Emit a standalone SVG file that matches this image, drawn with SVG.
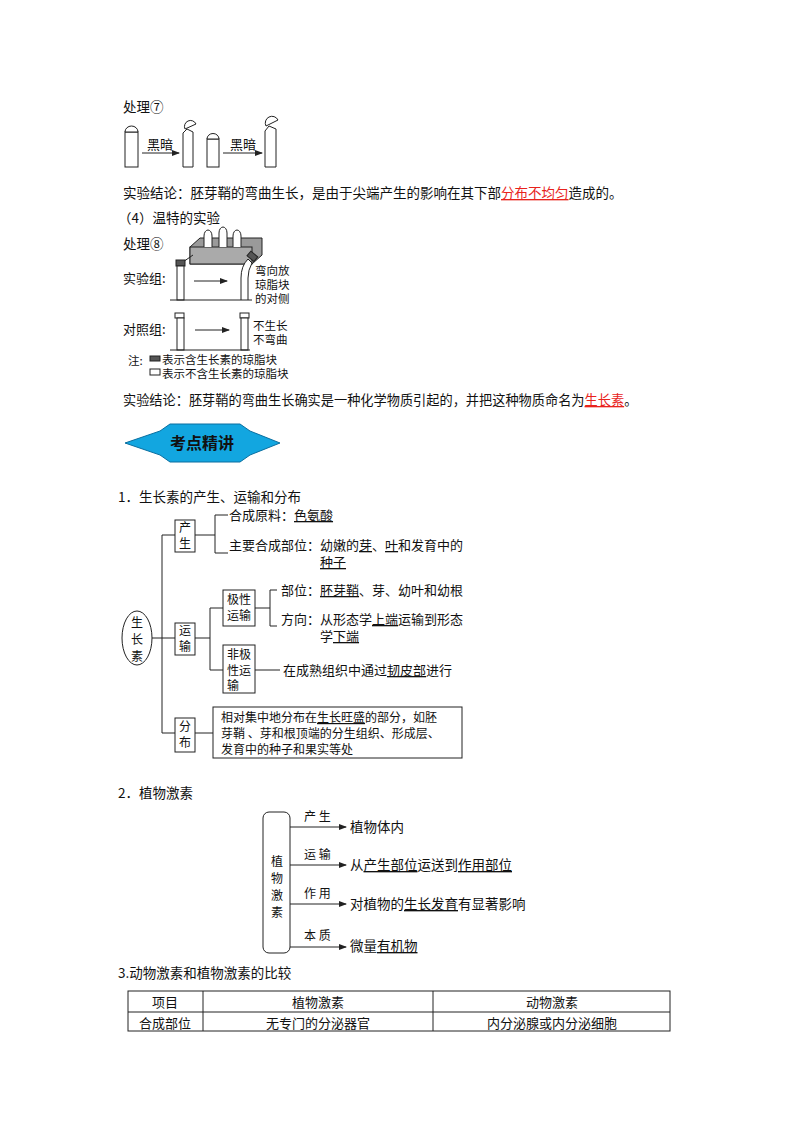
<svg xmlns="http://www.w3.org/2000/svg" width="800" height="1132" viewBox="0 0 800 1132">
<style>
text{font-family:"Noto Sans CJK SC","Liberation Serif",serif;fill:#111;font-size:13.5px}
.s{font-size:13px}
.b{font-size:12px}
.xs{font-size:12px}
.t{font-size:11.5px}
.u{text-decoration:underline}
.r{fill:#e8231c;text-decoration:underline}
.ln{stroke:#222;stroke-width:1;fill:none}
.bx{stroke:#222;stroke-width:1;fill:#fff}
</style>
<defs>
<marker id="a" markerWidth="8" markerHeight="6" refX="7" refY="3" orient="auto" markerUnits="userSpaceOnUse"><path d="M0,0 L8,3 L0,6 z" fill="#222"/></marker>
</defs>
<rect width="800" height="1132" fill="#fff"/>

<text x="123" y="112">处理⑦</text>
<g id="fig7">
<rect x="125" y="132" width="13" height="35" class="bx"/>
<path class="bx" d="M125,132 A6.5,6 0 0 1 138,132 Z"/>
<path class="bx" d="M183,167 V133 L187,129 L193,132 V167 Z"/>
<path class="bx" d="M185,129 A6,6 0 0 1 196,124 Z"/>
<rect x="207" y="139" width="12" height="28" class="bx"/>
<path class="bx" d="M207,139 A6,5.5 0 0 1 219,139 Z"/>
<path class="bx" d="M265,167 V131 L269,126 L276,129 V167 Z"/>
<path class="bx" d="M266,126 A6.5,6.5 0 0 1 278,120 Z"/>
</g>
<g id="c7">
<line class="ln" x1="142" y1="153" x2="179" y2="153" marker-end="url(#a)"/>
<line class="ln" x1="223" y1="153" x2="262" y2="153" marker-end="url(#a)"/>
</g>
<text x="147" y="149" class="s">黑暗</text>
<text x="230" y="149" class="s">黑暗</text>

<text x="123" y="198">实验结论：胚芽鞘的弯曲生长，是由于尖端产生的影响在其下部<tspan class="r">分布不均匀</tspan>造成的。</text>
<text x="118" y="223">（4）温特的实验</text>
<text x="123" y="249">处理⑧</text>

<g id="fig8">
<path d="M190,247 L200,238 H262 V255 L252,264 H190 Z" fill="#9a9a9a" stroke="#222"/>
<rect x="190" y="247" width="62" height="17" fill="#aaa" stroke="#222"/>
<path class="bx" d="M204,247 V236 A4,6 0 0 1 212,236 V247"/>
<path class="bx" d="M219,247 V233 A4,6 0 0 1 227,233 V247"/>
<path class="bx" d="M233,247 V236 A4,6 0 0 1 241,236 V247"/>
<line class="ln" x1="183" y1="262" x2="193" y2="255"/>
<rect x="176" y="260" width="9" height="6" fill="#555" stroke="#222"/>
<rect x="177" y="266" width="7" height="34" class="bx"/>
<path class="bx" d="M241,300 V278 Q241,266 248,259 L252,263 Q248,270 248,278 V300"/>
<rect x="248" y="253" width="9" height="6" fill="#555" stroke="#222" transform="rotate(40 252 256)"/>
<line class="ln" x1="170" y1="300" x2="252" y2="300"/>
<rect x="175" y="313" width="9" height="5" class="bx"/>
<rect x="177" y="318" width="7" height="32" class="bx"/>
<rect x="240" y="313" width="9" height="5" class="bx"/>
<rect x="241" y="318" width="7" height="32" class="bx"/>
<line class="ln" x1="170" y1="350" x2="250" y2="350"/>
<rect x="150" y="356" width="10" height="5" fill="#555" stroke="#222"/>
<rect x="150" y="369" width="10" height="6" class="bx"/>
</g>
<g id="c8">
<line class="ln" x1="194" y1="281" x2="227" y2="281" marker-end="url(#a)"/>
<line class="ln" x1="195" y1="330" x2="229" y2="330" marker-end="url(#a)"/>
</g>
<text x="123" y="283" class="s">实验组:</text>
<text x="255" y="275" class="t">弯向放</text>
<text x="255" y="289" class="t">琼脂块</text>
<text x="255" y="303" class="t">的对侧</text>
<text x="123" y="334" class="s">对照组:</text>
<text x="253" y="330" class="t">不生长</text>
<text x="253" y="344" class="t">不弯曲</text>
<text x="128" y="365" class="t">注:</text>
<text x="162" y="364" class="t">表示含生长素的琼脂块</text>
<text x="162" y="378" class="t">表示不含生长素的琼脂块</text>

<text x="123" y="405" style="font-size:13.2px">实验结论：胚芽鞘的弯曲生长确实是一种化学物质引起的，并把这种物质命名为<tspan class="r">生长素</tspan>。</text>

<g id="banner">
<polygon points="125,443 160,431 170,424 240,424 250,431 280,443 250,455 240,462 170,462 160,455" fill="#12a6e0" stroke="#0a6fa0"/>
<text x="202" y="449" text-anchor="middle" style="font-size:16px;font-weight:bold">考点精讲</text>
</g>

<text x="118" y="502">1．生长素的产生、运输和分布</text>

<g id="map1-conn">
<line class="ln" x1="152" y1="638" x2="162" y2="638"/>
<line class="ln" x1="162" y1="535" x2="162" y2="733"/>
<line class="ln" x1="162" y1="535" x2="175" y2="535"/>
<line class="ln" x1="162" y1="638" x2="175" y2="638"/>
<line class="ln" x1="162" y1="733" x2="175" y2="733"/>
<line class="ln" x1="195" y1="535" x2="215" y2="535"/>
<path class="ln" d="M228,515 H215 V553 H228"/>
<line class="ln" x1="195" y1="638" x2="210" y2="638"/>
<path class="ln" d="M223,608 H210 V670 H223"/>
<line class="ln" x1="255" y1="608" x2="270" y2="608"/>
<path class="ln" d="M277,590 H270 V626 H277"/>
<line class="ln" x1="255" y1="670" x2="280" y2="670"/>
<line class="ln" x1="195" y1="733" x2="213" y2="733"/>
</g>
<g id="n-auxin"><ellipse cx="137" cy="638" rx="15" ry="27" class="bx"/>
<text x="137" y="627" text-anchor="middle" class="b">生</text><text x="137" y="644" text-anchor="middle" class="b">长</text><text x="137" y="661" text-anchor="middle" class="b">素</text></g>
<g id="n-prod"><rect x="175" y="520" width="20" height="32" class="bx"/>
<text x="185" y="532" text-anchor="middle" class="b">产</text><text x="185" y="548" text-anchor="middle" class="b">生</text></g>
<text x="229" y="520" class="s">合成原料：<tspan class="u">色氨酸</tspan></text>
<text x="229" y="550" class="s">主要合成部位：幼嫩的<tspan class="u">芽</tspan>、<tspan class="u">叶</tspan>和发育中的</text>
<text x="320" y="567" class="s u">种子</text>
<g id="n-trans"><rect x="175" y="623" width="20" height="32" class="bx"/>
<text x="185" y="635" text-anchor="middle" class="b">运</text><text x="185" y="651" text-anchor="middle" class="b">输</text></g>
<g id="n-polar"><rect x="223" y="590" width="32" height="36" class="bx"/>
<text x="239" y="604" text-anchor="middle" class="b">极性</text><text x="239" y="620" text-anchor="middle" class="b">运输</text></g>
<text x="281" y="595" class="s">部位：<tspan class="u">胚芽鞘</tspan>、芽、幼叶和幼根</text>
<text x="281" y="624" class="s">方向：从形态学<tspan class="u">上端</tspan>运输到形态</text>
<text x="320" y="641" class="s">学<tspan class="u">下端</tspan></text>
<g id="n-nonpolar"><rect x="223" y="645" width="32" height="48" class="bx"/>
<text x="239" y="659" text-anchor="middle" class="b">非极</text><text x="239" y="675" text-anchor="middle" class="b">性运</text><text x="233" y="690" text-anchor="middle" class="b">输</text></g>
<text x="283" y="675" class="s">在成熟组织中通过<tspan class="u">韧皮部</tspan>进行</text>
<g id="n-dist"><rect x="175" y="718" width="20" height="34" class="bx"/>
<text x="185" y="731" text-anchor="middle" class="b">分</text><text x="185" y="747" text-anchor="middle" class="b">布</text></g>
<g id="n-distbox"><rect x="213" y="707" width="249" height="51" class="bx"/>
<text x="221" y="722" class="b">相对集中地分布在<tspan class="u">生长旺盛</tspan>的部分，如胚</text>
<text x="221" y="738" class="b">芽鞘 、芽和根顶端的分生组织、形成层、</text>
<text x="221" y="754" class="b">发育中的种子和果实等处</text></g>

<text x="118" y="798">2．植物激素</text>
<g id="n-ph"><rect x="263" y="812" width="27" height="141" rx="6" class="bx"/>
<text x="277" y="866" text-anchor="middle" class="b">植</text><text x="277" y="883" text-anchor="middle" class="b">物</text><text x="277" y="900" text-anchor="middle" class="b">激</text><text x="277" y="917" text-anchor="middle" class="b">素</text></g>
<g id="map2-conn">
<line class="ln" x1="290" y1="827" x2="346" y2="827" marker-end="url(#a)"/>
<line class="ln" x1="290" y1="865" x2="346" y2="865" marker-end="url(#a)"/>
<line class="ln" x1="290" y1="904" x2="346" y2="904" marker-end="url(#a)"/>
<line class="ln" x1="290" y1="947" x2="346" y2="947" marker-end="url(#a)"/>
</g>
<text x="304" y="821" class="xs">产 生</text>
<text x="304" y="859" class="xs">运 输</text>
<text x="304" y="898" class="xs">作 用</text>
<text x="304" y="940" class="xs">本 质</text>
<text x="350" y="832">植物体内</text>
<text x="350" y="870">从<tspan class="u">产生部位</tspan>运送到<tspan class="u">作用部位</tspan></text>
<text x="350" y="909">对植物的<tspan class="u">生长发育</tspan>有显著影响</text>
<text x="350" y="951">微量<tspan class="u">有机物</tspan></text>

<text x="118" y="978">3.动物激素和植物激素的比较</text>
<g id="table">
<rect x="128" y="991" width="542" height="40" class="bx"/>
<line class="ln" x1="128" y1="1012" x2="670" y2="1012"/>
<line class="ln" x1="203" y1="991" x2="203" y2="1031"/>
<line class="ln" x1="433" y1="991" x2="433" y2="1031"/>
<text x="165" y="1007" text-anchor="middle" class="s">项目</text>
<text x="318" y="1007" text-anchor="middle" class="s">植物激素</text>
<text x="552" y="1007" text-anchor="middle" class="s">动物激素</text>
<text x="165" y="1028" text-anchor="middle" class="s">合成部位</text>
<text x="318" y="1028" text-anchor="middle" class="s">无专门的分泌器官</text>
<text x="552" y="1028" text-anchor="middle" class="s">内分泌腺或内分泌细胞</text>
</g>
</svg>
